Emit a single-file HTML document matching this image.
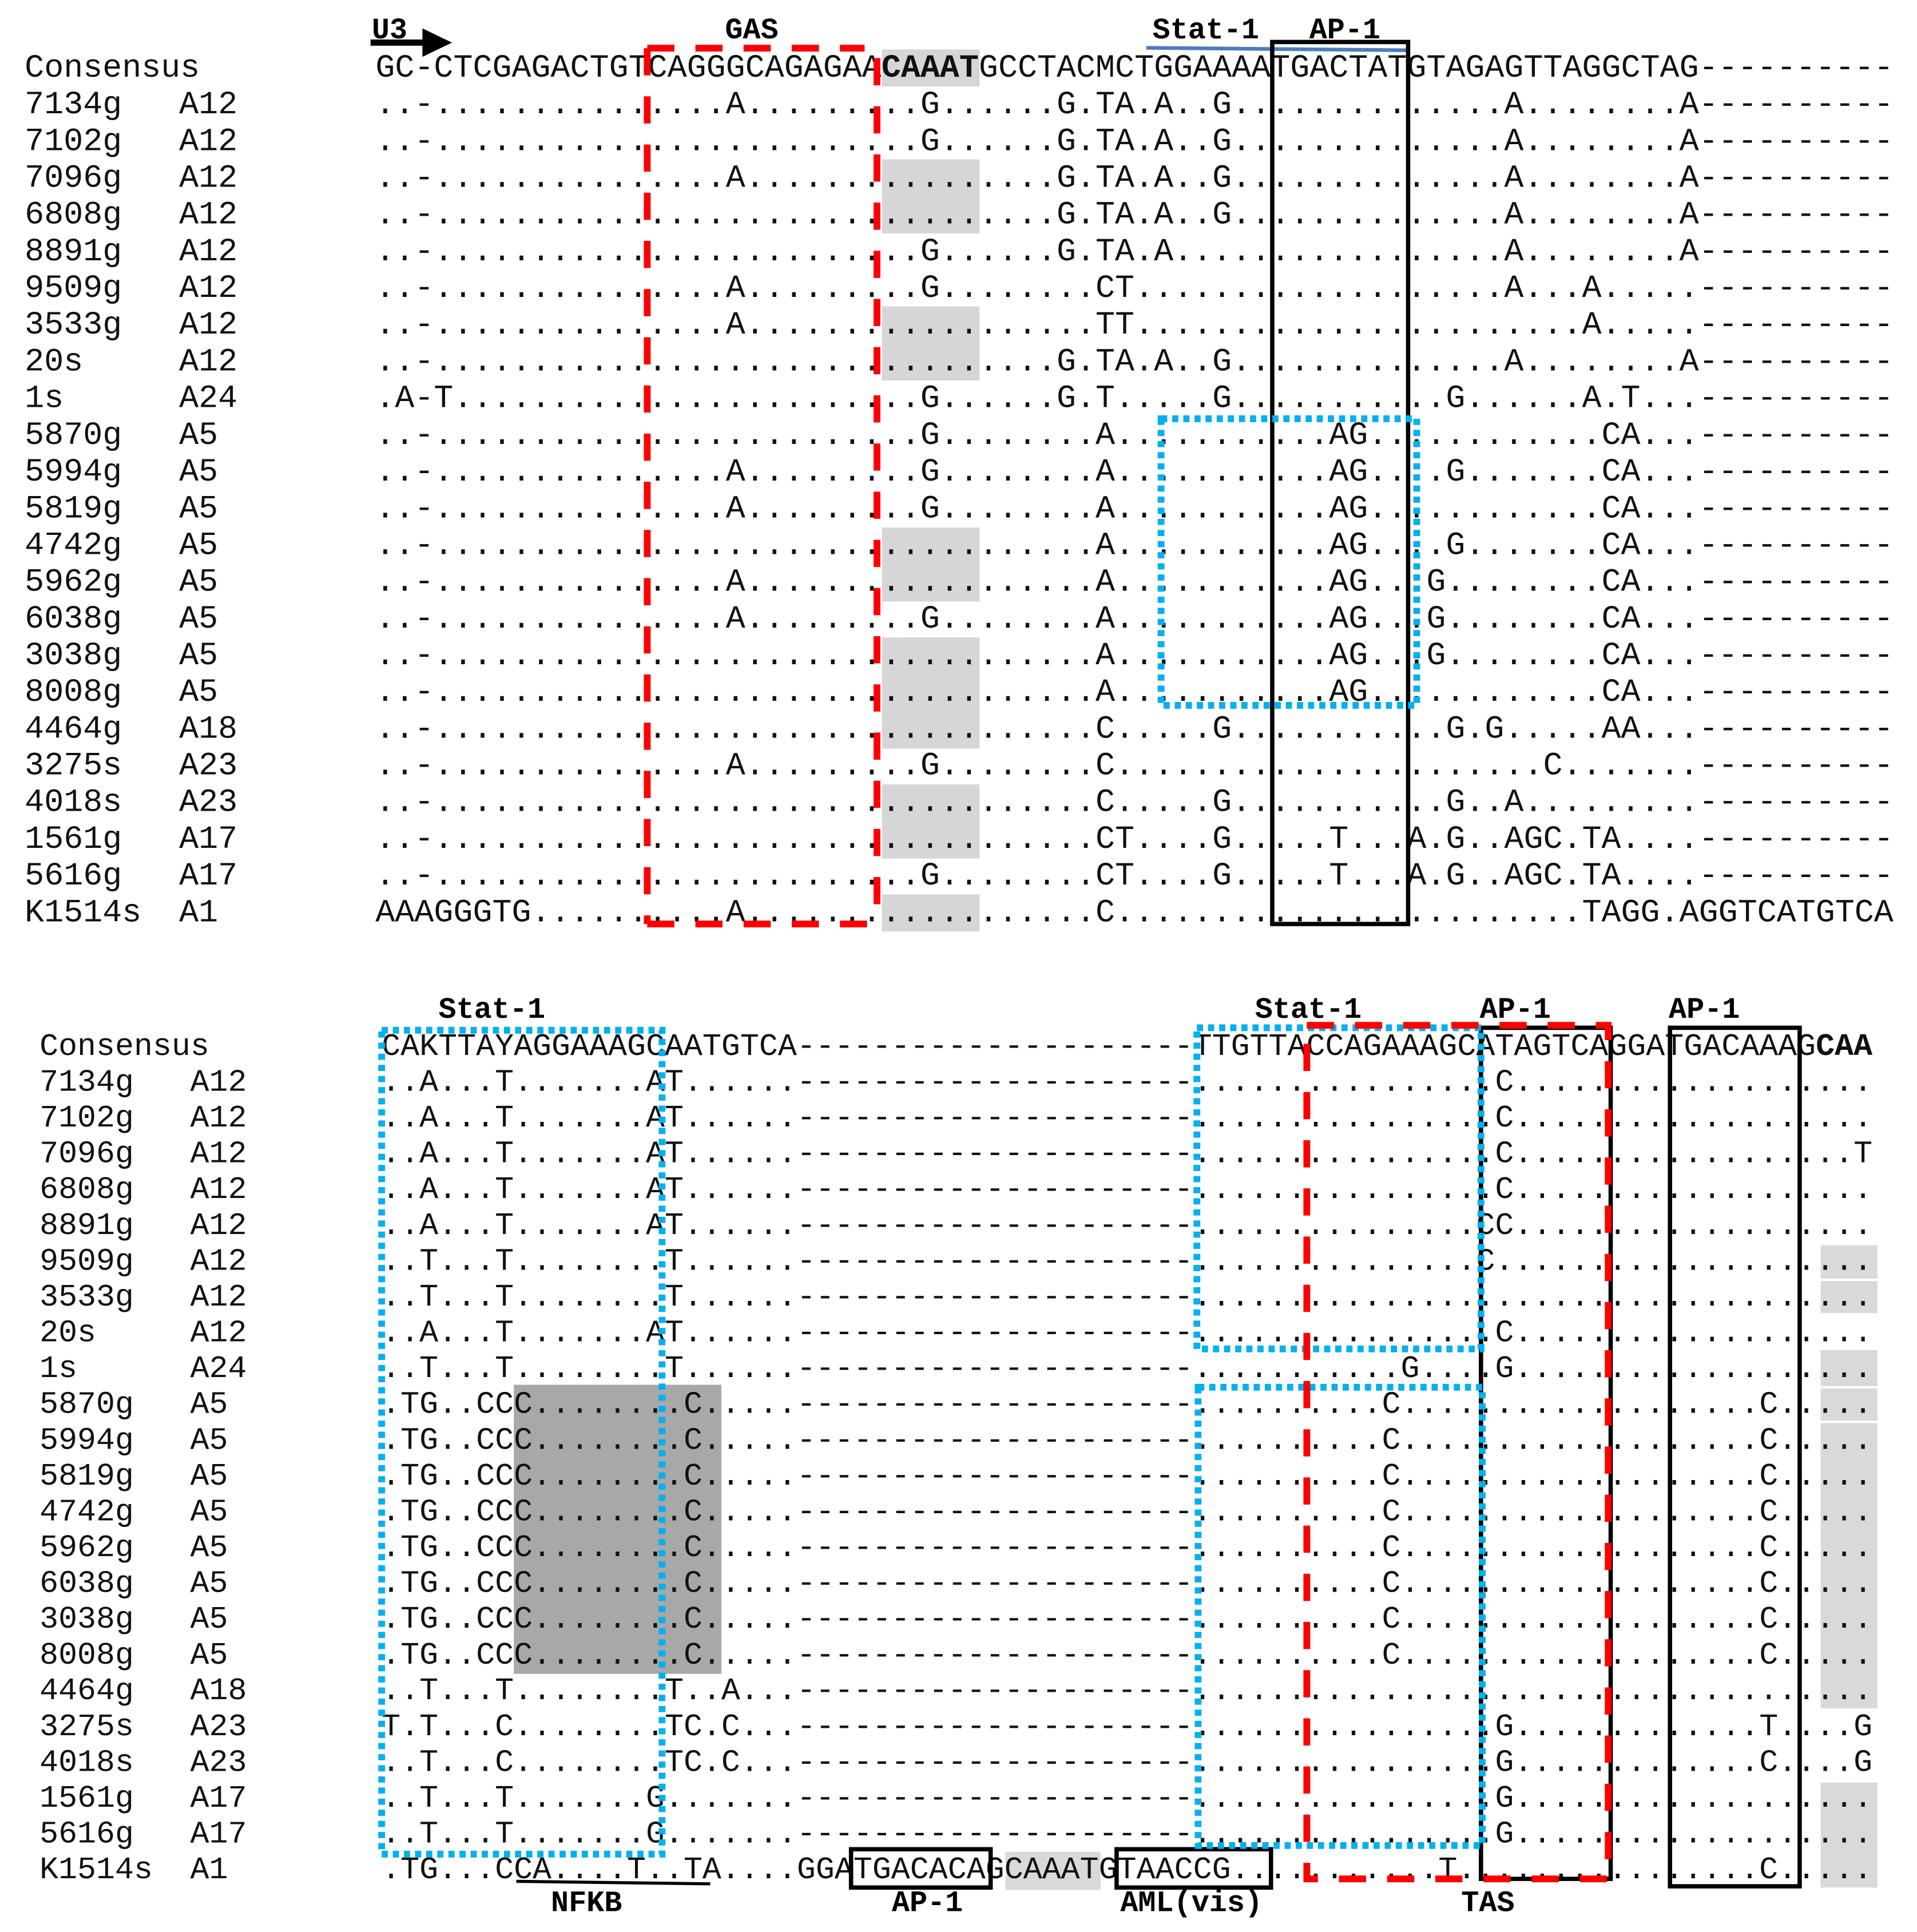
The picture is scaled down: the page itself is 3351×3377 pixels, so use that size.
<!DOCTYPE html>
<html><head><meta charset="utf-8"><style>
html,body{margin:0;padding:0;background:#fff;}
svg{display:block}
.t{font-family:"Liberation Mono",monospace;font-size:26.26px;fill:#111;white-space:pre}
.b{font-family:"Liberation Mono",monospace;font-size:25.46px;fill:#111;white-space:pre}
.l{font-family:"Liberation Mono",monospace;font-size:24px;font-weight:bold;fill:#000}
</style></head><body>
<svg width="3351" height="3377" viewBox="0 0 1552 1564" preserveAspectRatio="none" xmlns="http://www.w3.org/2000/svg" xml:space="preserve">
<rect width="1552" height="1564" fill="#fff"/>
<g fill="#d6d6d6">
<rect x="714" y="40" width="79" height="30"/>
<rect x="714" y="129" width="79" height="60"/>
<rect x="714" y="248" width="79" height="60"/>
<rect x="714" y="427" width="79" height="60"/>
<rect x="714" y="516" width="79" height="90"/>
<rect x="714" y="635" width="79" height="60"/>
<rect x="714" y="724" width="79" height="30"/>
</g>
<rect x="416" y="1121" width="168" height="234" fill="#a8a8a8"/>
<g fill="#d9d9d9">
<rect x="814" y="1499" width="77" height="31"/>
<rect x="1474" y="1008" width="46" height="27"/>
<rect x="1474" y="1037" width="46" height="26"/>
<rect x="1474" y="1093" width="46" height="29"/>
<rect x="1474" y="1124" width="46" height="26"/>
<rect x="1474" y="1152" width="46" height="231"/>
<rect x="1474" y="1443" width="46" height="85"/>
</g>

<text class="l" x="301" y="31">U3</text>
<rect x="300" y="32" width="46" height="5" fill="#000"/>
<polygon points="342,23 366,34.5 342,46" fill="#000"/>
<text class="l" x="587" y="31">GAS</text>
<text class="l" x="933" y="31">Stat-1</text>
<text class="l" x="1060" y="31">AP-1</text>
<line x1="928" y1="38.7" x2="1141" y2="40.7" stroke="#4a7ebb" stroke-width="3"/>

<g class="t">
<text x="20" y="62">Consensus</text>
<text x="20" y="91.7">7134g</text><text x="145" y="91.7">A12</text>
<text x="20" y="121.5">7102g</text><text x="145" y="121.5">A12</text>
<text x="20" y="151.2">7096g</text><text x="145" y="151.2">A12</text>
<text x="20" y="180.9">6808g</text><text x="145" y="180.9">A12</text>
<text x="20" y="210.7">8891g</text><text x="145" y="210.7">A12</text>
<text x="20" y="240.4">9509g</text><text x="145" y="240.4">A12</text>
<text x="20" y="270.1">3533g</text><text x="145" y="270.1">A12</text>
<text x="20" y="299.8">20s</text><text x="145" y="299.8">A12</text>
<text x="20" y="329.6">1s</text><text x="145" y="329.6">A24</text>
<text x="20" y="359.3">5870g</text><text x="145" y="359.3">A5</text>
<text x="20" y="389">5994g</text><text x="145" y="389">A5</text>
<text x="20" y="418.8">5819g</text><text x="145" y="418.8">A5</text>
<text x="20" y="448.5">4742g</text><text x="145" y="448.5">A5</text>
<text x="20" y="478.2">5962g</text><text x="145" y="478.2">A5</text>
<text x="20" y="508">6038g</text><text x="145" y="508">A5</text>
<text x="20" y="537.7">3038g</text><text x="145" y="537.7">A5</text>
<text x="20" y="567.4">8008g</text><text x="145" y="567.4">A5</text>
<text x="20" y="597.1">4464g</text><text x="145" y="597.1">A18</text>
<text x="20" y="626.9">3275s</text><text x="145" y="626.9">A23</text>
<text x="20" y="656.6">4018s</text><text x="145" y="656.6">A23</text>
<text x="20" y="686.3">1561g</text><text x="145" y="686.3">A17</text>
<text x="20" y="716.1">5616g</text><text x="145" y="716.1">A17</text>
<text x="20" y="745.8">K1514s</text><text x="145" y="745.8">A1</text>
</g>
<g class="t">
<text x="304" y="62"><tspan>GC-CTCGAGACTGTCAGGGCAGAGAA</tspan><tspan font-weight="bold">CAAAT</tspan><tspan>GCCTACMCTGGAAAATGACTATGTAGAGTTAGGCTAG</tspan><tspan>----------</tspan></text>
<text x="304" y="91.7"><tspan>..-.......</tspan><tspan>........A.</tspan><tspan>........G.</tspan><tspan>.....G.TA.</tspan><tspan>A..G......</tspan><tspan>........A.</tspan><tspan>.......A</tspan><tspan>----------</tspan></text>
<text x="304" y="121.5"><tspan>..-.......</tspan><tspan>..........</tspan><tspan>........G.</tspan><tspan>.....G.TA.</tspan><tspan>A..G......</tspan><tspan>........A.</tspan><tspan>.......A</tspan><tspan>----------</tspan></text>
<text x="304" y="151.2"><tspan>..-.......</tspan><tspan>........A.</tspan><tspan>..........</tspan><tspan>.....G.TA.</tspan><tspan>A..G......</tspan><tspan>........A.</tspan><tspan>.......A</tspan><tspan>----------</tspan></text>
<text x="304" y="180.9"><tspan>..-.......</tspan><tspan>..........</tspan><tspan>..........</tspan><tspan>.....G.TA.</tspan><tspan>A..G......</tspan><tspan>........A.</tspan><tspan>.......A</tspan><tspan>----------</tspan></text>
<text x="304" y="210.7"><tspan>..-.......</tspan><tspan>..........</tspan><tspan>........G.</tspan><tspan>.....G.TA.</tspan><tspan>A.........</tspan><tspan>........A.</tspan><tspan>.......A</tspan><tspan>----------</tspan></text>
<text x="304" y="240.4"><tspan>..-.......</tspan><tspan>........A.</tspan><tspan>........G.</tspan><tspan>.......CT.</tspan><tspan>..........</tspan><tspan>........A.</tspan><tspan>..A.....</tspan><tspan>----------</tspan></text>
<text x="304" y="270.1"><tspan>..-.......</tspan><tspan>........A.</tspan><tspan>..........</tspan><tspan>.......TT.</tspan><tspan>..........</tspan><tspan>..........</tspan><tspan>..A.....</tspan><tspan>----------</tspan></text>
<text x="304" y="299.8"><tspan>..-.......</tspan><tspan>..........</tspan><tspan>..........</tspan><tspan>.....G.TA.</tspan><tspan>A..G......</tspan><tspan>........A.</tspan><tspan>.......A</tspan><tspan>----------</tspan></text>
<text x="304" y="329.6"><tspan>.A-T......</tspan><tspan>..........</tspan><tspan>........G.</tspan><tspan>.....G.T..</tspan><tspan>...G......</tspan><tspan>.....G....</tspan><tspan>..A.T...</tspan><tspan>----------</tspan></text>
<text x="304" y="359.3"><tspan>..-.......</tspan><tspan>..........</tspan><tspan>........G.</tspan><tspan>.......A..</tspan><tspan>.........A</tspan><tspan>G.........</tspan><tspan>...CA...</tspan><tspan>----------</tspan></text>
<text x="304" y="389"><tspan>..-.......</tspan><tspan>........A.</tspan><tspan>........G.</tspan><tspan>.......A..</tspan><tspan>.........A</tspan><tspan>G....G....</tspan><tspan>...CA...</tspan><tspan>----------</tspan></text>
<text x="304" y="418.8"><tspan>..-.......</tspan><tspan>........A.</tspan><tspan>........G.</tspan><tspan>.......A..</tspan><tspan>.........A</tspan><tspan>G.........</tspan><tspan>...CA...</tspan><tspan>----------</tspan></text>
<text x="304" y="448.5"><tspan>..-.......</tspan><tspan>..........</tspan><tspan>..........</tspan><tspan>.......A..</tspan><tspan>.........A</tspan><tspan>G....G....</tspan><tspan>...CA...</tspan><tspan>----------</tspan></text>
<text x="304" y="478.2"><tspan>..-.......</tspan><tspan>........A.</tspan><tspan>..........</tspan><tspan>.......A..</tspan><tspan>.........A</tspan><tspan>G...G.....</tspan><tspan>...CA...</tspan><tspan>----------</tspan></text>
<text x="304" y="508"><tspan>..-.......</tspan><tspan>........A.</tspan><tspan>........G.</tspan><tspan>.......A..</tspan><tspan>.........A</tspan><tspan>G...G.....</tspan><tspan>...CA...</tspan><tspan>----------</tspan></text>
<text x="304" y="537.7"><tspan>..-.......</tspan><tspan>..........</tspan><tspan>..........</tspan><tspan>.......A..</tspan><tspan>.........A</tspan><tspan>G...G.....</tspan><tspan>...CA...</tspan><tspan>----------</tspan></text>
<text x="304" y="567.4"><tspan>..-.......</tspan><tspan>..........</tspan><tspan>..........</tspan><tspan>.......A..</tspan><tspan>.........A</tspan><tspan>G.........</tspan><tspan>...CA...</tspan><tspan>----------</tspan></text>
<text x="304" y="597.1"><tspan>..-.......</tspan><tspan>..........</tspan><tspan>..........</tspan><tspan>.......C..</tspan><tspan>...G......</tspan><tspan>.....G.G..</tspan><tspan>...AA...</tspan><tspan>----------</tspan></text>
<text x="304" y="626.9"><tspan>..-.......</tspan><tspan>........A.</tspan><tspan>........G.</tspan><tspan>.......C..</tspan><tspan>..........</tspan><tspan>..........</tspan><tspan>C.......</tspan><tspan>----------</tspan></text>
<text x="304" y="656.6"><tspan>..-.......</tspan><tspan>..........</tspan><tspan>..........</tspan><tspan>.......C..</tspan><tspan>...G......</tspan><tspan>.....G..A.</tspan><tspan>........</tspan><tspan>----------</tspan></text>
<text x="304" y="686.3"><tspan>..-.......</tspan><tspan>..........</tspan><tspan>..........</tspan><tspan>.......CT.</tspan><tspan>...G.....T</tspan><tspan>...A.G..AG</tspan><tspan>C.TA....</tspan><tspan>----------</tspan></text>
<text x="304" y="716.1"><tspan>..-.......</tspan><tspan>..........</tspan><tspan>........G.</tspan><tspan>.......CT.</tspan><tspan>...G.....T</tspan><tspan>...A.G..AG</tspan><tspan>C.TA....</tspan><tspan>----------</tspan></text>
<text x="304" y="745.8"><tspan>AAAGGGTG..</tspan><tspan>........A.</tspan><tspan>..........</tspan><tspan>.......C..</tspan><tspan>..........</tspan><tspan>..........</tspan><tspan>..TAGG.AGGTCATGTCA</tspan></text>
</g>

<g fill="none" stroke="#ff0000" stroke-width="5.5" stroke-dasharray="22 17">
<path d="M524,39 H700"/>
<path d="M524,39 V748"/>
<path d="M524,748 H712"/>
<path d="M710,47 V748"/>
</g>
<rect x="1030" y="34" width="110" height="714" fill="none" stroke="#000" stroke-width="3.5"/>
<rect x="940" y="339" width="207" height="232" fill="none" stroke="#00b0f0" stroke-width="5.5" stroke-dasharray="5 4"/>

<text class="l" x="355" y="824">Stat-1</text>
<text class="l" x="1016" y="824">Stat-1</text>
<text class="l" x="1198" y="824">AP-1</text>
<text class="l" x="1351" y="824">AP-1</text>
<text class="l" x="446" y="1547">NFKB</text>
<text class="l" x="722" y="1547">AP-1</text>
<text class="l" x="907" y="1547">AML(vis)</text>
<text class="l" x="1183" y="1547">TAS</text>
<line x1="418" y1="1523" x2="575" y2="1525" stroke="#000" stroke-width="2.5"/>

<g class="b">
<text x="32" y="854">Consensus</text>
<text x="32" y="883">7134g</text><text x="154" y="883">A12</text>
<text x="32" y="912">7102g</text><text x="154" y="912">A12</text>
<text x="32" y="940.9">7096g</text><text x="154" y="940.9">A12</text>
<text x="32" y="969.9">6808g</text><text x="154" y="969.9">A12</text>
<text x="32" y="998.9">8891g</text><text x="154" y="998.9">A12</text>
<text x="32" y="1027.9">9509g</text><text x="154" y="1027.9">A12</text>
<text x="32" y="1056.9">3533g</text><text x="154" y="1056.9">A12</text>
<text x="32" y="1085.8">20s</text><text x="154" y="1085.8">A12</text>
<text x="32" y="1114.8">1s</text><text x="154" y="1114.8">A24</text>
<text x="32" y="1143.8">5870g</text><text x="154" y="1143.8">A5</text>
<text x="32" y="1172.8">5994g</text><text x="154" y="1172.8">A5</text>
<text x="32" y="1201.8">5819g</text><text x="154" y="1201.8">A5</text>
<text x="32" y="1230.7">4742g</text><text x="154" y="1230.7">A5</text>
<text x="32" y="1259.7">5962g</text><text x="154" y="1259.7">A5</text>
<text x="32" y="1288.7">6038g</text><text x="154" y="1288.7">A5</text>
<text x="32" y="1317.7">3038g</text><text x="154" y="1317.7">A5</text>
<text x="32" y="1346.7">8008g</text><text x="154" y="1346.7">A5</text>
<text x="32" y="1375.6">4464g</text><text x="154" y="1375.6">A18</text>
<text x="32" y="1404.6">3275s</text><text x="154" y="1404.6">A23</text>
<text x="32" y="1433.6">4018s</text><text x="154" y="1433.6">A23</text>
<text x="32" y="1462.6">1561g</text><text x="154" y="1462.6">A17</text>
<text x="32" y="1491.6">5616g</text><text x="154" y="1491.6">A17</text>
<text x="32" y="1520.5">K1514s</text><text x="154" y="1520.5">A1</text>
</g>
<g class="b">
<text x="309" y="854"><tspan>CAKTTAYAGGAAAGCAATGTCA</tspan><tspan>---------------------</tspan><tspan>TTGTTACCAGAAAGCATAGTCAGGATGACAAAG</tspan><tspan font-weight="bold">CAA</tspan></text>
<text x="309" y="883"><tspan>..A...T.......AT......</tspan><tspan>---------------------</tspan><tspan>..........</tspan><tspan>......C...</tspan><tspan>..........</tspan><tspan>......</tspan></text>
<text x="309" y="912"><tspan>..A...T.......AT......</tspan><tspan>---------------------</tspan><tspan>..........</tspan><tspan>......C...</tspan><tspan>..........</tspan><tspan>......</tspan></text>
<text x="309" y="940.9"><tspan>..A...T.......AT......</tspan><tspan>---------------------</tspan><tspan>..........</tspan><tspan>......C...</tspan><tspan>..........</tspan><tspan>.....T</tspan></text>
<text x="309" y="969.9"><tspan>..A...T.......AT......</tspan><tspan>---------------------</tspan><tspan>..........</tspan><tspan>......C...</tspan><tspan>..........</tspan><tspan>......</tspan></text>
<text x="309" y="998.9"><tspan>..A...T.......AT......</tspan><tspan>---------------------</tspan><tspan>..........</tspan><tspan>.....CC...</tspan><tspan>..........</tspan><tspan>......</tspan></text>
<text x="309" y="1027.9"><tspan>..T...T........T......</tspan><tspan>---------------------</tspan><tspan>..........</tspan><tspan>.....C....</tspan><tspan>..........</tspan><tspan>......</tspan></text>
<text x="309" y="1056.9"><tspan>..T...T........T......</tspan><tspan>---------------------</tspan><tspan>..........</tspan><tspan>..........</tspan><tspan>..........</tspan><tspan>......</tspan></text>
<text x="309" y="1085.8"><tspan>..A...T.......AT......</tspan><tspan>---------------------</tspan><tspan>..........</tspan><tspan>......C...</tspan><tspan>..........</tspan><tspan>......</tspan></text>
<text x="309" y="1114.8"><tspan>..T...T........T......</tspan><tspan>---------------------</tspan><tspan>..........</tspan><tspan>.G....G...</tspan><tspan>..........</tspan><tspan>......</tspan></text>
<text x="309" y="1143.8"><tspan>.TG..CCC........C.....</tspan><tspan>---------------------</tspan><tspan>..........</tspan><tspan>C.........</tspan><tspan>..........</tspan><tspan>C.....</tspan></text>
<text x="309" y="1172.8"><tspan>.TG..CCC........C.....</tspan><tspan>---------------------</tspan><tspan>..........</tspan><tspan>C.........</tspan><tspan>..........</tspan><tspan>C.....</tspan></text>
<text x="309" y="1201.8"><tspan>.TG..CCC........C.....</tspan><tspan>---------------------</tspan><tspan>..........</tspan><tspan>C.........</tspan><tspan>..........</tspan><tspan>C.....</tspan></text>
<text x="309" y="1230.7"><tspan>.TG..CCC........C.....</tspan><tspan>---------------------</tspan><tspan>..........</tspan><tspan>C.........</tspan><tspan>..........</tspan><tspan>C.....</tspan></text>
<text x="309" y="1259.7"><tspan>.TG..CCC........C.....</tspan><tspan>---------------------</tspan><tspan>..........</tspan><tspan>C.........</tspan><tspan>..........</tspan><tspan>C.....</tspan></text>
<text x="309" y="1288.7"><tspan>.TG..CCC........C.....</tspan><tspan>---------------------</tspan><tspan>..........</tspan><tspan>C.........</tspan><tspan>..........</tspan><tspan>C.....</tspan></text>
<text x="309" y="1317.7"><tspan>.TG..CCC........C.....</tspan><tspan>---------------------</tspan><tspan>..........</tspan><tspan>C.........</tspan><tspan>..........</tspan><tspan>C.....</tspan></text>
<text x="309" y="1346.7"><tspan>.TG..CCC........C.....</tspan><tspan>---------------------</tspan><tspan>..........</tspan><tspan>C.........</tspan><tspan>..........</tspan><tspan>C.....</tspan></text>
<text x="309" y="1375.6"><tspan>..T...T........T..A...</tspan><tspan>---------------------</tspan><tspan>..........</tspan><tspan>..........</tspan><tspan>..........</tspan><tspan>......</tspan></text>
<text x="309" y="1404.6"><tspan>T.T...C........TC.C...</tspan><tspan>---------------------</tspan><tspan>..........</tspan><tspan>......G...</tspan><tspan>..........</tspan><tspan>T....G</tspan></text>
<text x="309" y="1433.6"><tspan>..T...C........TC.C...</tspan><tspan>---------------------</tspan><tspan>..........</tspan><tspan>......G...</tspan><tspan>..........</tspan><tspan>C....G</tspan></text>
<text x="309" y="1462.6"><tspan>..T...T.......G.......</tspan><tspan>---------------------</tspan><tspan>..........</tspan><tspan>......G...</tspan><tspan>..........</tspan><tspan>......</tspan></text>
<text x="309" y="1491.6"><tspan>..T...T.......G.......</tspan><tspan>---------------------</tspan><tspan>..........</tspan><tspan>......G...</tspan><tspan>..........</tspan><tspan>......</tspan></text>
<text x="309" y="1520.5"><tspan>.TG...CCA....T..TA....</tspan><tspan>GGATGACACAGCAAATGTAACCG..</tspan><tspan>.........T................C.....</tspan></text>
</g>

<rect x="689" y="1497" width="113" height="31" fill="none" stroke="#000" stroke-width="3.5"/>
<rect x="904" y="1497" width="125" height="31" fill="none" stroke="#000" stroke-width="3.5"/>
<path d="M1199,832 H1304 V1521 H1199 Z" fill="none" stroke="#000" stroke-width="3.5"/>
<rect x="1352" y="832" width="105" height="695" fill="none" stroke="#000" stroke-width="3.5"/>
<g fill="none" stroke="#00b0f0" stroke-width="5.5" stroke-dasharray="5 4">
<rect x="309" y="834" width="227" height="667"/>
<rect x="969" y="832" width="230" height="260"/>
<rect x="970" y="1123" width="230" height="371"/>
</g>
<path d="M1058,830 H1302 V1521 H1058 Z" fill="none" stroke="#ff0000" stroke-width="5.5" stroke-dasharray="22 17"/>
</svg>
</body></html>
